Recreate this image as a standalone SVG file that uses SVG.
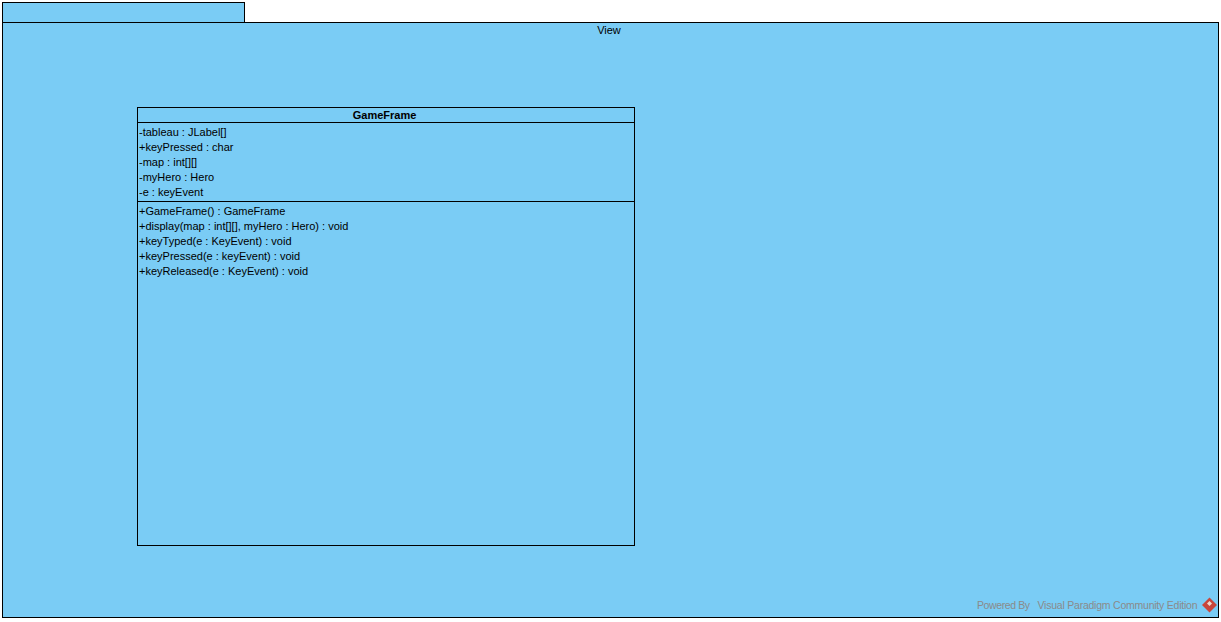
<svg xmlns="http://www.w3.org/2000/svg" width="1221" height="622" viewBox="0 0 1221 622">
<style>
.b{fill:#7accf5;stroke:#000;stroke-width:1}
.l{stroke:#000;stroke-width:1;fill:none}
text{font-family:"Liberation Sans",Arial,sans-serif;font-size:11px;fill:#000}
.t{font-weight:bold;text-anchor:middle}
.w{fill:#8a8a8a;font-size:10.500px}
</style>
<rect width="1221" height="622" fill="#fff"/>
<g id="package-View">
<rect class="b" x="2.500" y="2.500" width="242" height="20"/>
<rect class="b" x="2.500" y="22.500" width="1216" height="595"/>
<text x="609" y="34" text-anchor="middle">View</text>
</g>
<g id="class-GameFrame">
<rect class="b" x="137.500" y="107.500" width="497" height="438"/>
<line class="l" x1="137" y1="122.500" x2="635" y2="122.500"/>
<line class="l" x1="137" y1="201.500" x2="635" y2="201.500"/>
<text class="t" x="384.500" y="119">GameFrame</text>
<text x="139" y="136">-tableau : JLabel[]</text>
<text x="139" y="151">+keyPressed : char</text>
<text x="139" y="166">-map : int[][]</text>
<text x="139" y="181">-myHero : Hero</text>
<text x="139" y="196">-e : keyEvent</text>
<text x="139" y="215">+GameFrame() : GameFrame</text>
<text x="139" y="230">+display(map : int[][], myHero : Hero) : void</text>
<text x="139" y="245">+keyTyped(e : KeyEvent) : void</text>
<text x="139" y="260">+keyPressed(e : keyEvent) : void</text>
<text x="139" y="275">+keyReleased(e : KeyEvent) : void</text>
</g>
<g id="connectors"></g>
<g id="watermark">
<text class="w" x="977" y="609" textLength="53">Powered By</text>
<text class="w" x="1037.500" y="609" textLength="160">Visual Paradigm Community Edition</text>
<polygon points="1209.500,597.500 1217,605 1209.500,612.500 1202,605" fill="#c8463c"/>
<polygon points="1209.500,601 1212,603.500 1209.500,606 1207,603.500" fill="#f0d8cc"/>
</g>
</svg>
